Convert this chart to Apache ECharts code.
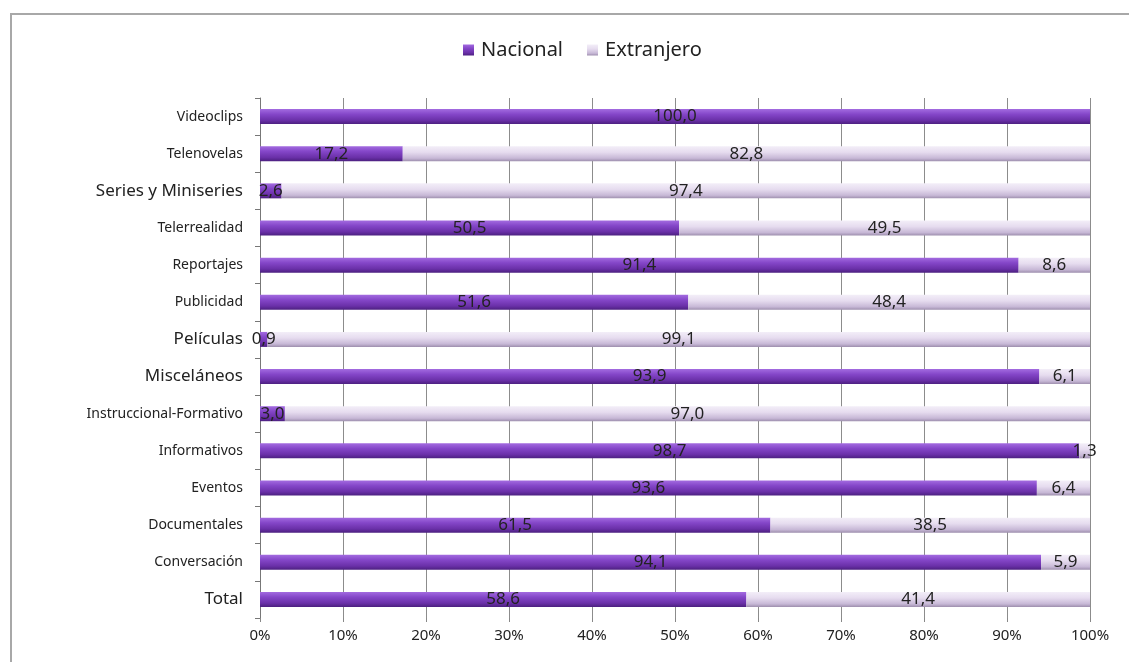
<!DOCTYPE html>
<html><head><meta charset="utf-8">
<script src="https://cdn.jsdelivr.net/npm/echarts@6/dist/echarts.min.js"></script>
<style>html,body{margin:0;padding:0;background:#fff}#c{width:1129px;height:662px}</style>
</head><body><div id="c"></div>
<script>
const categories = ['Total','Conversación','Documentales','Eventos','Informativos','Instruccional-Formativo','Misceláneos','Películas','Publicidad','Reportajes','Telerrealidad','Series y Miniseries','Telenovelas','Videoclips'];
const nacional = [58.6,94.1,61.5,93.6,98.7,3.0,93.9,0.9,51.6,91.4,50.5,2.6,17.2,100.0];
const extranjero = [41.4,5.9,38.5,6.4,1.3,97.0,6.1,99.1,48.4,8.6,49.5,97.4,82.8,0];
const xTicks = ['0%','10%','20%','30%','40%','50%','60%','70%','80%','90%','100%'];
const bigLabels = ['Total','Películas','Misceláneos','Series y Miniseries'];

const chart = echarts.init(document.getElementById('c'));
const fmt = p => p.value > 0 ? p.value.toFixed(1).replace('.', ',') : '';
const lbl = {show:true, position:'inside', color:'#222', fontSize:17, fontFamily:'Noto Sans', formatter:fmt};
chart.setOption({
  animation:false,
  graphic:[{type:'rect', shape:{x:11, y:14, width:1200, height:700}, style:{fill:'none', stroke:'#a8a8a8', lineWidth:2}}],
  legend:{top:35, left:458, itemWidth:11, itemHeight:11, itemGap:24, icon:'rect',
    textStyle:{fontSize:20, fontFamily:'Noto Sans', color:'#222', padding:[0,0,0,2]},
    data:['Nacional','Extranjero']},
  grid:{left:260, right:39, top:98, bottom:44},
  xAxis:{type:'value', min:0, max:100, interval:10,
    axisLine:{show:false}, axisTick:{show:true, length:4, lineStyle:{color:'#888'}},
    splitLine:{lineStyle:{color:'#8c8c8c'}},
    axisLabel:{color:'#222', fontSize:15, fontFamily:'Noto Sans', margin:10, formatter:(v)=>xTicks[Math.round(v/10)]}},
  yAxis:{type:'category',
    data:categories.map(c=>({value:c, textStyle:{fontSize: bigLabels.includes(c)?17:14}})),
    axisLine:{lineStyle:{color:'#777'}}, axisTick:{show:true, length:5, lineStyle:{color:'#777'}},
    axisLabel:{color:'#222', fontFamily:'Noto Sans', margin:17}},
  series:[
    {name:'Nacional', type:'bar', stack:'t', barWidth:15, data:nacional, label:lbl,
     itemStyle:{color:new echarts.graphic.LinearGradient(0,0,0,1,[{offset:0,color:'#a36be0'},{offset:0.35,color:'#8446c8'},{offset:0.75,color:'#6a30a8'},{offset:1,color:'#4c2080'}])}},
    {name:'Extranjero', type:'bar', stack:'t', barWidth:15, data:extranjero, label:lbl,
     itemStyle:{color:new echarts.graphic.LinearGradient(0,0,0,1,[{offset:0,color:'#f3eef8'},{offset:0.4,color:'#e6dcef'},{offset:0.8,color:'#c7b8d6'},{offset:1,color:'#9e8fae'}])}}
  ]
});
</script></body></html>
